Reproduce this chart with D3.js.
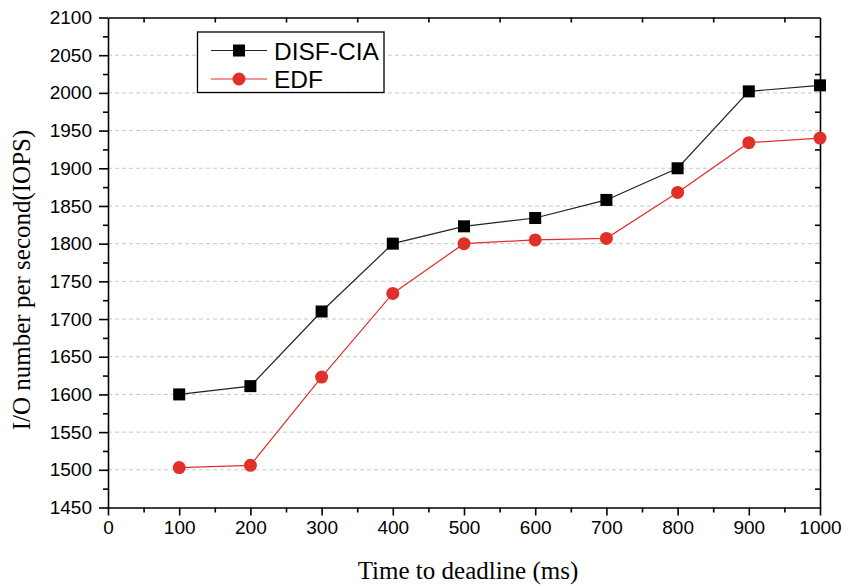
<!DOCTYPE html>
<meta charset="utf-8">
<head>
  <title>IOPS vs time to deadline</title>
  <script src="https://d3js.org/d3.v7.min.js"></script>
  <style>
    body { margin: 0; background: #fff; }
    .tick text { font-family: "Liberation Sans", Arial, sans-serif; font-size: 19px; fill: #000; }
    .axis-title { font-family: "Liberation Serif", "Times New Roman", serif; font-size: 25px; fill: #000; }
    .legend text { font-family: "Liberation Sans", Arial, sans-serif; font-size: 24.5px; fill: #000; }
    .grid line { stroke: #c8c8c8; stroke-dasharray: 4,3; }
  </style>
</head>
<body>
  <svg width="856" height="586"></svg>
  <script>
    // data
    var deadlines = [100, 200, 300, 400, 500, 600, 700, 800, 900, 1000];
    var disfCia = [1600, 1611, 1710, 1800, 1823, 1834, 1858, 1900, 2002, 2010];
    var edf = [1503, 1506, 1623, 1734, 1800, 1805, 1807, 1868, 1934, 1940];
    var xTicks = [0, 100, 200, 300, 400, 500, 600, 700, 800, 900, 1000];
    var yTicks = d3.range(1450, 2101, 50);

    var svg = d3.select("svg"),
      mLeft = 108, mRight = 820, mTop = 17.5, mBottom = 507.5;

    var x = d3.scaleLinear().domain([0, 1000]).range([mLeft, mRight]);
    var y = d3.scaleLinear().domain([1450, 2100]).range([mBottom, mTop]);
    var fmt = d3.format("d");

    // grid
    svg.append("g").attr("class", "grid")
      .selectAll("line")
      .data(yTicks.filter(function(d) { return d > 1450 && d < 2100; }))
      .enter().append("line")
      .attr("x1", mLeft).attr("x2", mRight)
      .attr("y1", function(d) { return y(d); })
      .attr("y2", function(d) { return y(d); });

    // bottom axis (major + minor)
    svg.append("g").attr("transform", "translate(0," + mBottom + ")")
      .call(d3.axisBottom(x).tickValues(xTicks).tickFormat(fmt).tickSize(8).tickPadding(5).tickSizeOuter(0));
    svg.append("g").attr("transform", "translate(0," + mBottom + ")")
      .call(d3.axisBottom(x).tickValues(d3.range(50, 1000, 100)).tickSize(5).tickFormat("").tickSizeOuter(0))
      .select(".domain").remove();

    // left axis
    svg.append("g").attr("transform", "translate(" + mLeft + ",0)")
      .call(d3.axisLeft(y).tickValues(yTicks).tickFormat(fmt).tickSize(9).tickPadding(7).tickSizeOuter(0));
    svg.append("g").attr("transform", "translate(" + mLeft + ",0)")
      .call(d3.axisLeft(y).tickValues(d3.range(1475, 2100, 50)).tickSize(5).tickFormat("").tickSizeOuter(0))
      .select(".domain").remove();

    // top and right mirror axes, minor ticks inward
    svg.append("g").attr("transform", "translate(0," + mTop + ")")
      .call(d3.axisBottom(x).tickValues(d3.range(50, 1000, 100)).tickSize(5).tickFormat("").tickSizeOuter(0));
    svg.append("g").attr("transform", "translate(" + mRight + ",0)")
      .call(d3.axisLeft(y).tickValues(d3.range(1475, 2100, 50)).tickSize(5).tickFormat("").tickSizeOuter(0));

    svg.selectAll(".domain, .tick line").attr("stroke", "#000").attr("stroke-width", 1.6);

    // axis titles
    svg.append("text").attr("class", "axis-title")
      .attr("x", 468).attr("y", 579)
      .attr("text-anchor", "middle")
      .text("Time to deadline (ms)");
    svg.append("text").attr("class", "axis-title")
      .attr("transform", "translate(30,280) rotate(-90)")
      .attr("text-anchor", "middle")
      .text("I/O number per second(IOPS)");

    var series = [
      { name: "DISF-CIA", values: disfCia, color: "#000000", line: "#222222", shape: "square" },
      { name: "EDF", values: edf, color: "#e0302a", line: "#e0302a", shape: "circle" }
    ];

    var line = d3.line()
      .x(function(d, i) { return x(deadlines[i]); })
      .y(function(d) { return y(d); });

    function marker(g, s, cx, cy) {
      if (s.shape === "square") {
        g.append("rect").attr("x", cx - 6).attr("y", cy - 6)
          .attr("width", 12).attr("height", 12).attr("fill", s.color);
      } else {
        g.append("circle").attr("cx", cx).attr("cy", cy).attr("r", 6.5).attr("fill", s.color);
      }
    }

    series.forEach(function(s) {
      svg.append("path").datum(s.values)
        .attr("fill", "none").attr("stroke", s.line).attr("stroke-width", 1.2)
        .attr("d", line);
      var g = svg.append("g");
      s.values.forEach(function(v, i) { marker(g, s, x(deadlines[i]), y(v)); });
    });

    // legend
    var legend = svg.append("g").attr("class", "legend");
    legend.append("rect").attr("x", 197.5).attr("y", 32).attr("width", 186.5).attr("height", 60.5)
      .attr("fill", "#fff").attr("stroke", "#000").attr("stroke-width", 1.3);
    series.forEach(function(s, i) {
      var ly = 50.5 + i * 28.5;
      legend.append("line").attr("x1", 211).attr("x2", 267).attr("y1", ly).attr("y2", ly)
        .attr("stroke", s.line).attr("stroke-width", 1.2);
      marker(legend, s, 239, ly);
      legend.append("text").attr("x", 274).attr("y", ly + 9).text(s.name);
    });
  </script>
</body>
